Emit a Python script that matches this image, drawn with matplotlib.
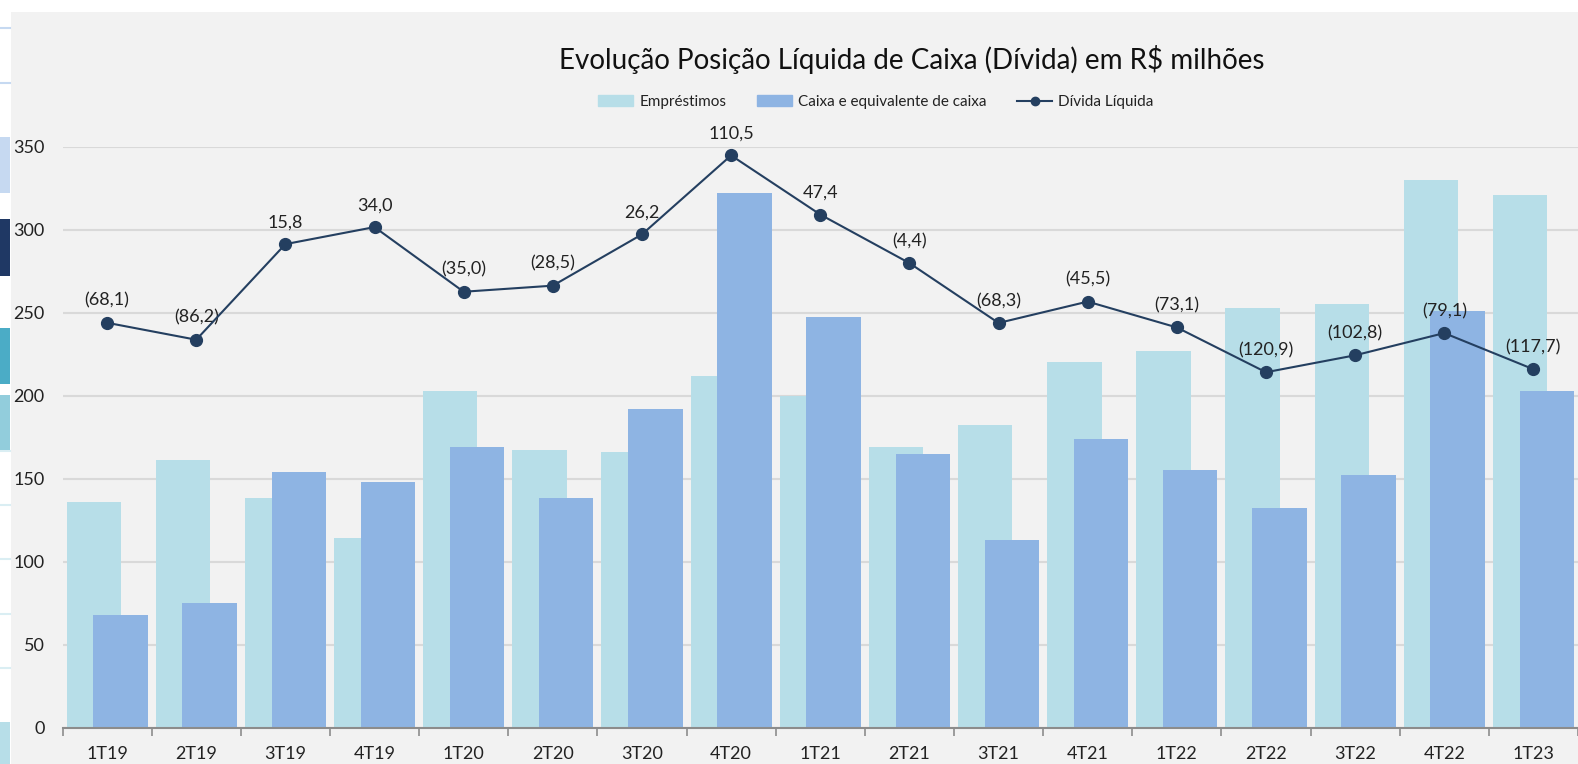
import matplotlib
matplotlib.use("Agg")
import matplotlib.pyplot as plt
import matplotlib.patches as mpatches
from matplotlib.lines import Line2D
import numpy as np

plt.rcParams['font.family'] = ['Lato', 'DejaVu Sans']

# Dados
trimestres = ['1T19', '2T19', '3T19', '4T19', '1T20', '2T20', '3T20', '4T20', '1T21',
              '2T21', '3T21', '4T21', '1T22', '2T22', '3T22', '4T22', '1T23']
emprestimos = [136, 161, 138, 114, 203, 167, 166, 212, 200, 169, 182, 220, 227, 253, 255, 330, 321]
caixa = [68, 75, 154, 148, 169, 138, 192, 322, 247, 165, 113, 174, 155, 132, 152, 251, 203]
divida_liquida = [-68.1, -86.2, 15.8, 34.0, -35.0, -28.5, 26.2, 110.5, 47.4, -4.4,
                  -68.3, -45.5, -73.1, -120.9, -102.8, -79.1, -117.7]

cor_emp = '#B7DEE8'
cor_caixa = '#8EB4E3'
cor_linha = '#243F60'

def fmt(v):
    s = f"{abs(v):.1f}".replace('.', ',')
    return f"({s})" if v < 0 else s

fig = plt.figure(figsize=(15.78, 7.64), dpi=100)
fig.patch.set_facecolor('white')

# fundo cinza do gráfico
fig.patches.append(mpatches.Rectangle((11/1578, 0), 1, 1 - 12/764, transform=fig.transFigure,
                                      facecolor='#F2F2F2', edgecolor='none', zorder=-10))

# restos de outros objetos na borda esquerda
faixas = [(137, 193, '#C6D9F1'), (219, 276, '#1F3864'), (328, 384, '#4BACC6'),
          (395, 450, '#92CDDC'), (722, 764, '#B7DEE8')]
for y0, y1, c in faixas:
    fig.patches.append(mpatches.Rectangle((0, 1 - y1/764), 10/1578, (y1 - y0)/764,
                                          transform=fig.transFigure, facecolor=c,
                                          edgecolor='none', zorder=-9))
for yl in [28, 83, 451, 505, 559, 614, 668]:
    fig.add_artist(Line2D([0, 10/1578], [1 - yl/764] * 2, transform=fig.transFigure,
                          color='#C6D9F1' if yl < 100 else '#DAEEF3', lw=1.5, zorder=-9))

ax = fig.add_axes([62.5/1578, 1 - 727.5/764, 1 - 62.5/1578, (727.5 - 146.5)/764])
ax.set_facecolor('none')

x = np.arange(len(trimestres))
w = 0.61
ax.bar(x - 0.15, emprestimos, w, color=cor_emp, zorder=2, label='Empréstimos')
ax.bar(x + 0.15, caixa, w, color=cor_caixa, zorder=3, label='Caixa e equivalente de caixa')

ax.set_xlim(-0.5, len(trimestres) - 0.5)
ax.set_ylim(0, 350)
ax.set_yticks(range(0, 351, 50))
ax.yaxis.grid(True, color='#D9D9D9', lw=1.5, zorder=0)
ax.set_axisbelow(True)
for s in ['top', 'right', 'left']:
    ax.spines[s].set_visible(False)
ax.spines['bottom'].set_color('#8C8C8C')
ax.spines['bottom'].set_linewidth(1.5)
ax.spines['bottom'].set_zorder(5)

ax.set_xticks(x)
ax.set_xticklabels(trimestres, fontsize=13, color='#222222')
ax.tick_params(axis='x', which='major', length=0, pad=13)
ax.set_xticks(np.arange(-0.5, len(trimestres), 1), minor=True)
ax.tick_params(axis='x', which='minor', length=6, width=1.2, color='#8C8C8C')
ax.tick_params(axis='y', length=0, labelsize=13, labelcolor='#222222', pad=13)
for t in ax.get_yticklabels():
    t.set_horizontalalignment('right')

# linha no eixo secundário
ax2 = ax.twinx()
ax2.set_ylim(-500, 120)
ax2.axis('off')
ax2.plot(x, divida_liquida, color=cor_linha, lw=1.5, marker='o', markersize=8.5,
         zorder=6, clip_on=False)
for xi, v in zip(x, divida_liquida):
    ax2.annotate(fmt(v), (xi, v), textcoords='offset points', xytext=(0, 10),
                 ha='center', va='bottom', fontsize=13, color='#222222', clip_on=False)

fig.text(0.578, 1 - 59/764, 'Evolução Posição Líquida de Caixa (Dívida) em R$ milhões',
         ha='center', va='center', fontsize=20, color='#111111')

handles = [mpatches.Patch(color=cor_emp), mpatches.Patch(color=cor_caixa),
           Line2D([], [], color=cor_linha, lw=1.5, marker='o', markersize=6)]
labels = ['Empréstimos', 'Caixa e equivalente de caixa', 'Dívida Líquida']
fig.legend(handles, labels, loc='center', bbox_to_anchor=(876/1578, 1 - 102/764), ncol=3,
           frameon=False, fontsize=11, handlelength=2.3, handleheight=0.7,
           handletextpad=0.4, columnspacing=2.0, labelcolor='#222222')

fig.savefig('out.png', dpi=100, facecolor=fig.get_facecolor())
